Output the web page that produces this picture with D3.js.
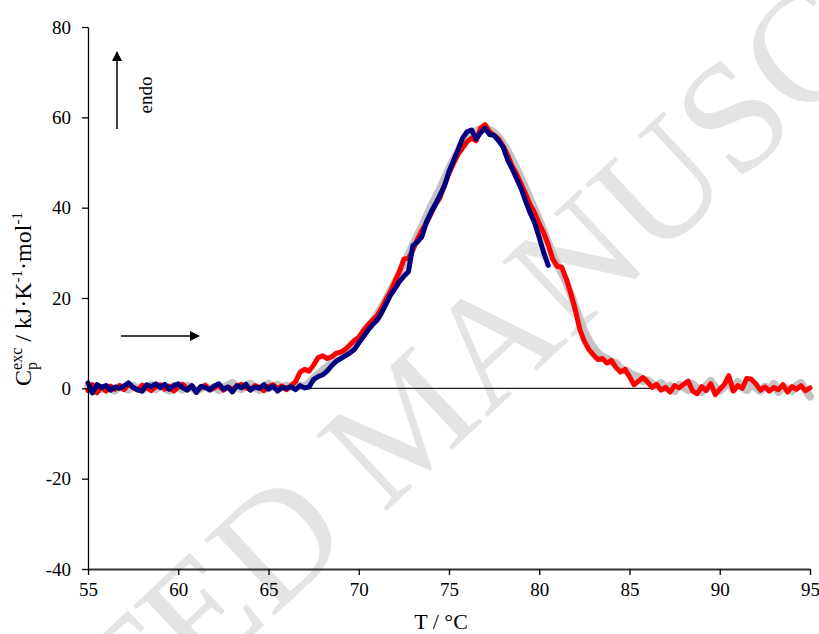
<!DOCTYPE html>
<html>
<head>
<meta charset="utf-8">
<script src="https://cdn.jsdelivr.net/npm/d3@7/dist/d3.min.js"></script>
<style>
  html, body { margin: 0; padding: 0; background: #fff; }
  svg { display: block; }
</style>
</head>
<body>
<svg id="chart" width="819" height="634"></svg>
<script>
// Temperature sampling of the DSC scans (°C)
const tStart = 55, tStep = 0.25;

// Excess heat capacity, kJ·K⁻¹·mol⁻¹, one value per 0.25 °C from 55 °C
const scanGray = [
  0.2, -0.6, 0.5, -0.2, 0.3, 0.0, -0.5, 0.4, 0.1, -0.3, 0.6, 0.0, -0.4, 0.3, 0.8, -0.2,
  0.4, 0.0, -0.5, 0.5, 0.1, -0.3, 0.6, 0.2, -0.6, 0.0, 0.5, -0.2, 0.3, -0.4, 0.2, 0.7,
  1.2, 0.4, -0.2, 0.6, 1.0, 0.2, -0.4, 0.5, 1.0, 0.3, 0.8, 0.2, 0.6, 0.3, 0.9, 0.6,
  0.4, 1.2, 2.2, 3.2, 4.0, 4.8, 5.6, 6.4, 7.0, 7.6, 8.4, 9.4, 10.6, 12.0, 13.4, 14.8,
  16.2, 17.8, 19.6, 21.6, 23.4, 25.4, 27.4, 29.6, 31.8, 33.8, 35.8, 38.0, 40.2, 42.2, 44.2, 46.4,
  48.6, 50.6, 52.6, 54.2, 55.6, 56.6, 57.0, 57.4, 57.6, 57.2, 56.6, 55.6, 54.2, 52.6, 50.6, 48.6,
  46.4, 44.2, 41.8, 39.6, 37.2, 34.8, 32.2, 29.6, 27.4, 25.6, 23.4, 20.8, 18.0, 15.2, 12.6, 10.6,
  9.0, 7.8, 7.0, 6.6, 5.8, 5.6, 4.4, 4.0, 3.4, 2.8, 2.6, 1.6, 1.8, 1.0, 0.4, 1.2,
  0.0, 0.6, -0.6, 0.8, 0.2, -0.4, 1.0, 0.0, -0.8, 0.6, 1.6, 0.2, -0.6, 0.4, 1.0, 0.0,
  1.4, 0.2, -0.4, 0.8, 0.2, -0.6, 0.4, -0.2, 1.0, -0.8, 0.3, 0.0, -0.6, 0.6, 1.2, -0.4,
  -1.8
];

const scanRed = [
  -0.5, 0.8, -1.0, 0.3, -0.6, 0.5, -0.2, 0.6, -0.3, 0.9, 0.2, -0.4, 0.7, 0.1, -0.5, 0.4,
  0.8, -0.2, 0.5, -0.6, 0.3, 0.9, -0.1, 0.4, -0.7, 0.2, 0.6, -0.3, 0.1, 0.7, -0.4, 0.3,
  -0.2, 0.5, 0.9, 0.1, -0.3, 0.6, 0.2, -0.5, 0.4, 0.8, 0.0, 0.5, -0.3, 0.6, 1.5, 3.6,
  4.2, 3.8, 5.2, 6.8, 7.2, 6.6, 7.0, 7.8, 8.0, 8.6, 9.6, 10.6, 11.3, 12.8, 14.0, 15.0,
  16.0, 17.6, 19.6, 21.4, 23.6, 25.8, 28.6, 28.8, 30.6, 33.0, 35.0, 36.6, 38.6, 40.6, 42.2, 45.0,
  47.6, 49.8, 51.8, 53.2, 54.6, 55.4, 54.8, 57.6, 58.4, 56.8, 56.0, 55.2, 53.6, 51.6, 49.2, 47.4,
  45.2, 43.0, 40.6, 38.8, 36.4, 34.4, 31.8, 28.6, 27.0, 26.8, 24.2, 21.0, 17.4, 13.0, 10.4, 8.6,
  7.4, 6.4, 6.6, 5.6, 6.2, 4.6, 3.6, 4.2, 2.6, 0.8, 1.6, 2.4, 1.4, 0.2, 0.9, -0.4,
  0.2, -0.8, 0.6, 0.1, 0.9, 1.6, -0.6, -1.2, 0.4, -0.5, 1.0, -1.4, -0.2, 0.8, 2.8, -0.6,
  0.6, 0.0, 2.2, 2.0, 1.0, -0.4, 0.3, -0.6, 0.2, -0.3, 0.8, -0.8, 0.4, -0.2, 0.6, -0.5,
  0.1
];

const scanNavy = [
  1.2, -1.0, 0.8, 0.2, 0.6, -0.4, 0.3, 0.0, 0.5, 1.2, 0.2, -0.3, -0.6, 0.8, 0.4, 1.0,
  0.2, 0.9, -0.2, 0.6, 1.0, 0.1, -0.4, 0.6, -0.9, 0.4, 0.2, -0.3, 0.5, 1.0, -0.2, 0.3,
  -0.8, 0.6, 0.1, 0.9, -0.4, 0.3, 0.0, 0.8, -0.2, 0.5, -0.6, 0.2, 0.0, 0.4, -0.3, 0.6,
  0.1, 0.3, 2.0, 2.6, 3.0, 3.8, 5.0, 6.0, 6.6, 7.2, 7.8, 8.6, 10.0, 11.4, 12.8, 14.0,
  15.0, 16.6, 18.6, 20.6, 22.0, 23.6, 24.8, 25.8, 31.6, 32.4, 33.6, 36.8, 39.0, 40.8, 42.8, 44.8,
  48.0, 50.4, 52.8, 55.4, 56.8, 57.2, 55.2, 56.6, 57.6, 56.2, 56.0, 54.8, 53.4, 50.6, 48.6, 46.4,
  44.2, 41.4, 38.8, 36.6, 33.4, 30.0, 27.2
];

const xTicks = [55, 60, 65, 70, 75, 80, 85, 90, 95];
const yTicks = [-40, -20, 0, 20, 40, 60, 80];
const watermark = "ACCEPTED MANUSCRIPT";

const serif = "'Liberation Serif', 'Times New Roman', serif";
const svg = d3.select("#chart");

const x = d3.scaleLinear().domain([55, 95]).range([88, 810]);
const y = d3.scaleLinear().domain([-40, 80]).range([569, 27]);

// faint diagonal stamp behind the plot
svg.append("text")
  .attr("transform", "translate(405,418) rotate(-43)")
  .attr("text-anchor", "middle")
  .attr("dy", "0.35em")
  .attr("font-family", serif)
  .attr("font-size", 158)
  .attr("fill", "#e4e4e4")
  .text(watermark);

// zero baseline
svg.append("line")
  .attr("x1", x(55)).attr("x2", x(95))
  .attr("y1", y(0)).attr("y2", y(0))
  .attr("stroke", "#222").attr("stroke-width", 1.2);

const toPoints = vals => vals.map((v, i) => [tStart + i * tStep, v]);
const line = d3.line().x(d => x(d[0])).y(d => y(d[1]));

const series = [
  { data: scanGray, color: "#c3c3c3", width: 8 },
  { data: scanRed, color: "#ff0000", width: 5 },
  { data: scanNavy, color: "#00007f", width: 5 }
];

svg.append("g").selectAll("path")
  .data(series)
  .join("path")
  .attr("d", s => line(toPoints(s.data)))
  .attr("fill", "none")
  .attr("stroke", s => s.color)
  .attr("stroke-width", s => s.width)
  .attr("stroke-linejoin", "round")
  .attr("stroke-linecap", "round");

// axes
const plain = d => String(d);
const yAxis = svg.append("g")
  .attr("transform", `translate(${x(55)},0)`)
  .call(d3.axisLeft(y).tickValues(yTicks).tickFormat(plain)
    .tickSize(6).tickSizeOuter(0).tickPadding(11));
const xAxis = svg.append("g")
  .attr("transform", `translate(0,${y(-40)})`)
  .call(d3.axisBottom(x).tickValues(xTicks).tickFormat(plain)
    .tickSize(6).tickSizeOuter(0).tickPadding(8));

[yAxis, xAxis].forEach(g => {
  g.selectAll("text").attr("font-family", serif).attr("font-size", 19).attr("fill", "#000");
  g.selectAll("line").attr("stroke", "#000").attr("stroke-width", 1.3);
  g.select(".domain").attr("stroke", "#000").attr("stroke-width", 1.3);
});
xAxis.select(".domain").attr("stroke", "#333").attr("stroke-width", 2.2);

// axis titles
svg.append("text")
  .attr("x", 441).attr("y", 629)
  .attr("text-anchor", "middle")
  .attr("font-family", serif).attr("font-size", 22)
  .text("T / °C");

const yTitle = svg.append("text")
  .attr("transform", "translate(31,299) rotate(-90)")
  .attr("text-anchor", "middle")
  .attr("font-family", serif).attr("font-size", 24);
yTitle.append("tspan").text("C");
yTitle.append("tspan").attr("font-size", 16).attr("dy", 6).text("p");
yTitle.append("tspan").attr("font-size", 16).attr("dx", -8).attr("dy", -15).text("exc");
yTitle.append("tspan").attr("dy", 9).text(" / kJ·K");
yTitle.append("tspan").attr("font-size", 15).attr("dy", -9).text("-1");
yTitle.append("tspan").attr("dy", 9).text("·mol");
yTitle.append("tspan").attr("font-size", 15).attr("dy", -9).text("-1");

// direction markers
const defs = svg.append("defs");
defs.append("marker")
  .attr("id", "head")
  .attr("viewBox", "0 0 10 10")
  .attr("refX", 9).attr("refY", 5)
  .attr("markerWidth", 10).attr("markerHeight", 10)
  .attr("markerUnits", "userSpaceOnUse")
  .attr("orient", "auto")
  .append("path").attr("d", "M0,0 L10,5 L0,10 Z").attr("fill", "#000");

svg.append("line")
  .attr("x1", 117).attr("y1", 129).attr("x2", 117).attr("y2", 52)
  .attr("stroke", "#000").attr("stroke-width", 1.5)
  .attr("marker-end", "url(#head)");
svg.append("text")
  .attr("transform", "translate(152,95) rotate(-90)")
  .attr("text-anchor", "middle")
  .attr("font-family", serif).attr("font-size", 19)
  .text("endo");

svg.append("line")
  .attr("x1", 121).attr("y1", 336).attr("x2", 199).attr("y2", 336)
  .attr("stroke", "#000").attr("stroke-width", 1.5)
  .attr("marker-end", "url(#head)");
</script>
</body>
</html>
